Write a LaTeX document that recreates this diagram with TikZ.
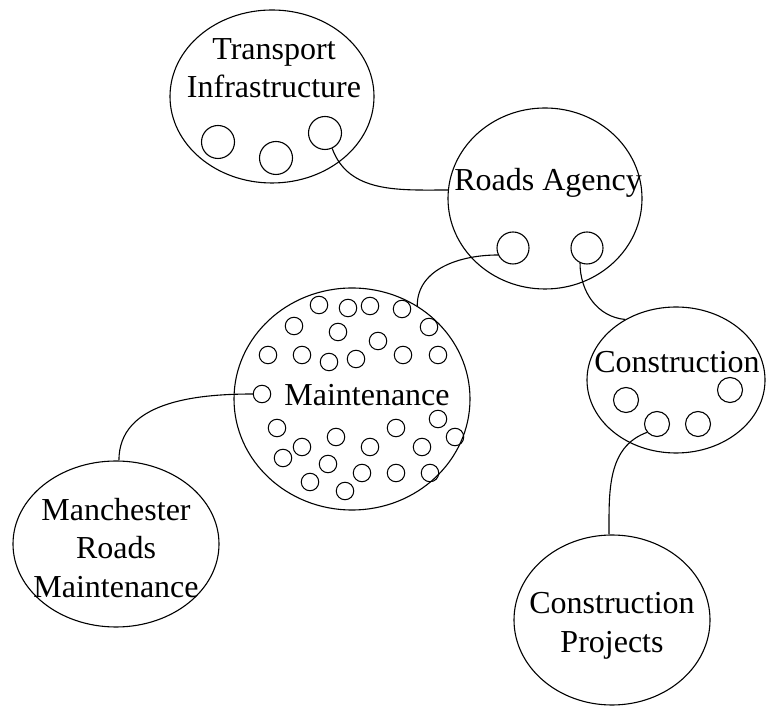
\documentclass[tikz,border=0pt]{standalone}
\usepackage{fontspec}
\setmainfont{Liberation Serif}
\usetikzlibrary{shapes.geometric}
\definecolor{ink}{HTML}{000000}
\tikzset{
  blob/.style={draw=ink, ellipse, line width=1.1pt, inner sep=0pt},
  port/.style={draw=ink, circle, line width=1.1pt, inner sep=0pt, minimum size=#1},
  port/.default=33pt,
  dot/.style={draw=ink, circle, line width=1pt, inner sep=0pt, minimum size=17.5pt},
  lab/.style={text=ink, font=\fontsize{32}{38.5}\selectfont, align=center, inner sep=0pt},
  link/.style={draw=ink, line width=1.1pt},
}

\begin{document}
\begin{tikzpicture}[x=1pt,y=1pt]
  \useasboundingbox (0,0) rectangle (767,706);
  % the big groups
  \node[blob, minimum width=204pt, minimum height=173pt] (transport) at (272,609.5) {};
  \node[blob, minimum width=194pt, minimum height=181pt] (roads) at (545,507.5) {};
  \node[blob, minimum width=236pt, minimum height=222pt] (maint) at (352,307) {};
  \node[blob, minimum width=178pt, minimum height=146pt] (constr) at (676,326) {};
  \node[blob, minimum width=196pt, minimum height=170pt] (projects) at (612,86) {};
  \node[blob, minimum width=206pt, minimum height=166pt] (manch) at (116,162) {};
  % their names
  \node[lab] (transportlab) at (274,638) {Transport\\Infrastructure};
  \node[lab] (roadslab) at (548,523) {Roads Agency};
  \node[lab] (maintlab) at (367,311) {Maintenance};
  \node[lab] (constrlab) at (677,344) {Construction};
  \node[lab] (projectslab) at (612,80) {Construction\\Projects};
  \node[lab] (manchlab) at (116,158) {Manchester\\Roads\\Maintenance};
  % ports
  \node[port] (t1) at (218,564) {};
  \node[port] (t2) at (276,548) {};
  \node[port] (t3) at (325,573) {};
  \node[port=32pt] (r1) at (513,458) {};
  \node[port=32pt] (r2) at (587,458) {};
  \node[port=25pt] (c1) at (626,306) {};
  \node[port=25pt] (c2) at (730,316) {};
  \node[port=25pt] (c3) at (657,282) {};
  \node[port=25pt] (c4) at (698,282) {};
  % maintenance members
  \foreach \px/\py [count=\i] in {319/401,348/398,370/400,402/397,
      294/380,338/374,429/379,378/365,
      268/351,302/351,329/344,356/347,403/351,438/351,
      277/278,302/259,283/248,336/269,328/242,310/224,345/215,
      362/233,370/259,396/278,396/233,422/259,438/287,455/269,430/233}
    \node[dot] (m\i) at (\px,\py) {};
  \node[dot] (m0) at (262,312) {};
  % links
  \draw[link] (t3.-65) to[out=-70,in=180] (roads.175);
  \draw[link] (r1.205) to[out=180,in=90] (maint.55);
  \draw[link] (r2.245) to[out=-90,in=175] (constr.130);
  \draw[link] (c3.220) to[out=200,in=90] (projects.92);
  \draw[link] (m0.west) to[out=180,in=90] (manch.88);
\end{tikzpicture}
\end{document}
